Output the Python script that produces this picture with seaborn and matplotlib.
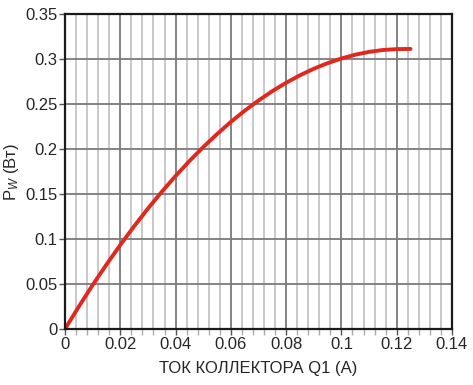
import matplotlib
matplotlib.use("Agg")
import matplotlib.pyplot as plt
from matplotlib.ticker import MultipleLocator
import pandas as pd
import seaborn as sns

# collector current (A) and dissipated power (W)
current = [0, 0.005, 0.01, 0.015, 0.02, 0.025, 0.03, 0.035, 0.04, 0.045,
           0.05, 0.055, 0.06, 0.065, 0.07, 0.075, 0.08, 0.085, 0.09, 0.095,
           0.10, 0.105, 0.11, 0.115, 0.12, 0.125]
power = [0, 0.0249, 0.0488, 0.0716, 0.0934, 0.1141, 0.1338, 0.1524, 0.1700,
         0.1866, 0.2021, 0.2166, 0.2301, 0.2425, 0.2539, 0.2643, 0.2736,
         0.2819, 0.2892, 0.2954, 0.3006, 0.3048, 0.3079, 0.3100, 0.3110, 0.3112]

x_ticks = [0, 0.02, 0.04, 0.06, 0.08, 0.1, 0.12, 0.14]
x_labels = ["0", "0.02", "0.04", "0.06", "0.08", "0.1", "0.12", "0.14"]
y_ticks = [0, 0.05, 0.1, 0.15, 0.2, 0.25, 0.3, 0.35]
y_labels = ["0", "0.05", "0.1", "0.15", "0.2", "0.25", "0.3", "0.35"]

sns.set_style("white")
plt.rcParams["font.family"] = ["Liberation Sans", "DejaVu Sans"]
plt.rcParams["mathtext.fontset"] = "custom"
plt.rcParams["mathtext.rm"] = "Liberation Sans"
plt.rcParams["mathtext.it"] = "Liberation Sans:italic"

df = pd.DataFrame({"I": current, "P": power})

fig = plt.figure(figsize=(4.73, 3.85), dpi=100)
ax = fig.add_axes([0.1374, 0.1455, 0.8182, 0.8181])

ax.set_xlim(0, 0.14)
ax.set_ylim(0, 0.35)
ax.set_xticks(x_ticks)
ax.set_xticklabels(x_labels)
ax.set_yticks(y_ticks)
ax.set_yticklabels(y_labels)
ax.xaxis.set_minor_locator(MultipleLocator(0.004))

ax.grid(which="minor", axis="x", color="#c4c4c4", linewidth=1.3)
ax.grid(which="major", axis="both", color="#7a7a7a", linewidth=1.3)
ax.set_axisbelow(True)

sns.lineplot(data=df, x="I", y="P", ax=ax, color="#e0281e", linewidth=2.8)

for s in ax.spines.values():
    s.set_color("#1a1a1a")
    s.set_linewidth(1.6)

ax.tick_params(which="major", direction="out", length=4, width=1.0,
               color="#555555", labelsize=12, pad=1.5, bottom=True, left=True)
ax.tick_params(which="minor", axis="x", direction="out", length=4, width=1.0,
               color="#aaaaaa", bottom=True)

ax.set_xlabel("ТОК КОЛЛЕКТОРА Q1 (A)", fontsize=12)
ax.set_ylabel(r"P$_{W}$ (Вт)", fontsize=12)
ax.xaxis.set_label_coords(0.5, -0.103)
ax.yaxis.set_label_coords(-0.114, 0.5)

fig.savefig("out.png", dpi=100)
